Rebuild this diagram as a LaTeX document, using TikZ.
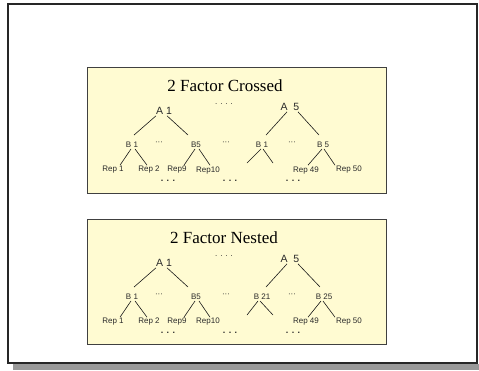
\documentclass[tikz,border=0pt]{standalone}
\usepackage{fontspec}
\setmainfont{Liberation Serif}
\setsansfont{Liberation Sans}
\usepackage{xcolor}
\usetikzlibrary{positioning, calc}

\definecolor{panelfill}{HTML}{FFFBD2}
\definecolor{treegray}{HTML}{2A2A2A}

\begin{document}
\begin{tikzpicture}[
  x=1pt, y=-1pt,
  panel_box/.style={draw=black!75, fill=panelfill, line width=0.8pt},
  title_text/.style={font=\fontsize{17}{19}\selectfont, inner sep=0pt},
  a_text/.style={font=\sffamily\fontsize{10.5}{12}\selectfont, text=treegray, inner sep=1pt},
  b_text/.style={font=\sffamily\fontsize{8}{9}\selectfont, text=treegray, inner sep=1pt},
  rep_text/.style={font=\sffamily\fontsize{8}{9}\selectfont, text=treegray, inner sep=1pt},
  gap_dots/.style={font=\sffamily\fontsize{8}{9}\selectfont, text=treegray, inner sep=0pt},
  big_dots/.style={font=\sffamily\bfseries\fontsize{9}{10}\selectfont, text=treegray, inner sep=0pt},
  branch/.style={draw=black!90, line width=0.6pt}
]
  \useasboundingbox (0,0) rectangle (479,370);

  % Slide frame with shadow
  \fill[black!40] (13,364) rectangle (479,370);
  \draw[black!85, line width=2pt] (8,4) rectangle (477,363);

  % CROSSED: panel
  \draw[panel_box] (87,67) rectangle (386,193);
  \node (ctitle) [title_text] at (225,86) {2 Factor Crossed};

  \node (ca1) [a_text] at (164,111) {A 1};
  \node (ca5) [a_text] at (290,107) {A~~5};
  \node (cadots) [gap_dots] at (224,104) {. . . .};

  \node (cb1) [b_text] at (132,145) {B 1};
  \node (cbd1) [gap_dots] at (159,143) {···};
  \node (cb5) [b_text] at (196,145) {B5};
  \node (cbd2) [gap_dots] at (226,143) {···};
  \node (cb21) [b_text] at (262,145) {B 1};
  \node (cbd3) [gap_dots] at (292,143) {···};
  \node (cb25) [b_text] at (323,145) {B 5};

  \node (cr1) [rep_text] at (113,170) {Rep 1};
  \node (cr2) [rep_text] at (149,170) {Rep 2};
  \node (cr9) [rep_text] at (177,170) {Rep9};
  \node (cr10) [rep_text] at (208,171) {Rep10};
  \coordinate (cl1) at (247,163);
  \coordinate (cl2) at (273,163);
  \node (cr49) [rep_text] at (306,171) {Rep 49};
  \node (cr50) [rep_text] at (349,170) {Rep 50};

  \node (crd1) [big_dots] at (168,180.5) {. . .};
  \node (crd2) [big_dots] at (230,180.5) {. . .};
  \node (crd3) [big_dots] at (293,180.5) {. . .};

  % Crossed: branches
  \draw[branch] ($(ca1.south)+(-8,0)$) -- ($(cb1.north)+(2,-6)$);
  \draw[branch] ($(ca1.south)+(3,0)$) -- ($(cb5.north)+(-8,-6)$);
  \draw[branch] ($(ca5.south)+(-3,0)$) -- ($(cb21.north)+(4,-6)$);
  \draw[branch] ($(ca5.south)+(8,0)$) -- ($(cb25.north)+(-4,-6)$);
  \draw[branch] ($(cb1.south)+(-1,0)$) -- ($(cr1.north)+(7,0)$);
  \draw[branch] ($(cb1.south)+(3,0)$) -- ($(cr2.north)+(-2,0)$);
  \draw[branch] ($(cb5.south)+(-1,0)$) -- ($(cr9.north)+(7,0)$);
  \draw[branch] ($(cb5.south)+(3,0)$) -- ($(cr10.north)+(2,-1)$);
  \draw[branch] ($(cb21.south)+(-1,0)$) -- (cl1);
  \draw[branch] ($(cb21.south)+(1,0)$) -- (cl2);
  \draw[branch] ($(cb25.south)+(-1,0)$) -- ($(cr49.north)+(2,-1)$);
  \draw[branch] ($(cb25.south)+(1,0)$) -- ($(cr50.north)+(-14,0)$);

  % NESTED: panel
  \draw[panel_box] (87,219) rectangle (386,344);
  \node (ntitle) [title_text] at (224,238) {2 Factor Nested};

  \node (na1) [a_text] at (164,263) {A 1};
  \node (na5) [a_text] at (290,259) {A~~5};
  \node (nadots) [gap_dots] at (224,256) {. . . .};

  \node (nb1) [b_text] at (132,297) {B 1};
  \node (nbd1) [gap_dots] at (159,295) {···};
  \node (nb5) [b_text] at (196,297) {B5};
  \node (nbd2) [gap_dots] at (226,295) {···};
  \node (nb21) [b_text] at (262,297) {B 21};
  \node (nbd3) [gap_dots] at (292,295) {···};
  \node (nb25) [b_text] at (324,297) {B 25};

  \node (nr1) [rep_text] at (113,322) {Rep 1};
  \node (nr2) [rep_text] at (149,322) {Rep 2};
  \node (nr9) [rep_text] at (177,322) {Rep9};
  \node (nr10) [rep_text] at (208,322) {Rep10};
  \coordinate (nl1) at (247,315);
  \coordinate (nl2) at (273,315);
  \node (nr49) [rep_text] at (306,322) {Rep 49};
  \node (nr50) [rep_text] at (349,322) {Rep 50};

  \node (nrd1) [big_dots] at (168,332.5) {. . .};
  \node (nrd2) [big_dots] at (230,332.5) {. . .};
  \node (nrd3) [big_dots] at (293,332.5) {. . .};

  % Nested: branches
  \draw[branch] ($(na1.south)+(-8,0)$) -- ($(nb1.north)+(2,-6)$);
  \draw[branch] ($(na1.south)+(3,0)$) -- ($(nb5.north)+(-8,-6)$);
  \draw[branch] ($(na5.south)+(-3,0)$) -- ($(nb21.north)+(4,-6)$);
  \draw[branch] ($(na5.south)+(8,0)$) -- ($(nb25.north)+(-4,-6)$);
  \draw[branch] ($(nb1.south)+(-1,0)$) -- ($(nr1.north)+(7,0)$);
  \draw[branch] ($(nb1.south)+(3,0)$) -- ($(nr2.north)+(-2,0)$);
  \draw[branch] ($(nb5.south)+(-1,0)$) -- ($(nr9.north)+(7,0)$);
  \draw[branch] ($(nb5.south)+(3,0)$) -- ($(nr10.north)+(2,0)$);
  \draw[branch] ($(nb21.south)+(-4,0)$) -- (nl1);
  \draw[branch] ($(nb21.south)+(-2,0)$) -- (nl2);
  \draw[branch] ($(nb25.south)+(-3,0)$) -- ($(nr49.north)+(2,0)$);
  \draw[branch] ($(nb25.south)+(-1,0)$) -- ($(nr50.north)+(-14,0)$);

\end{tikzpicture}
\end{document}
